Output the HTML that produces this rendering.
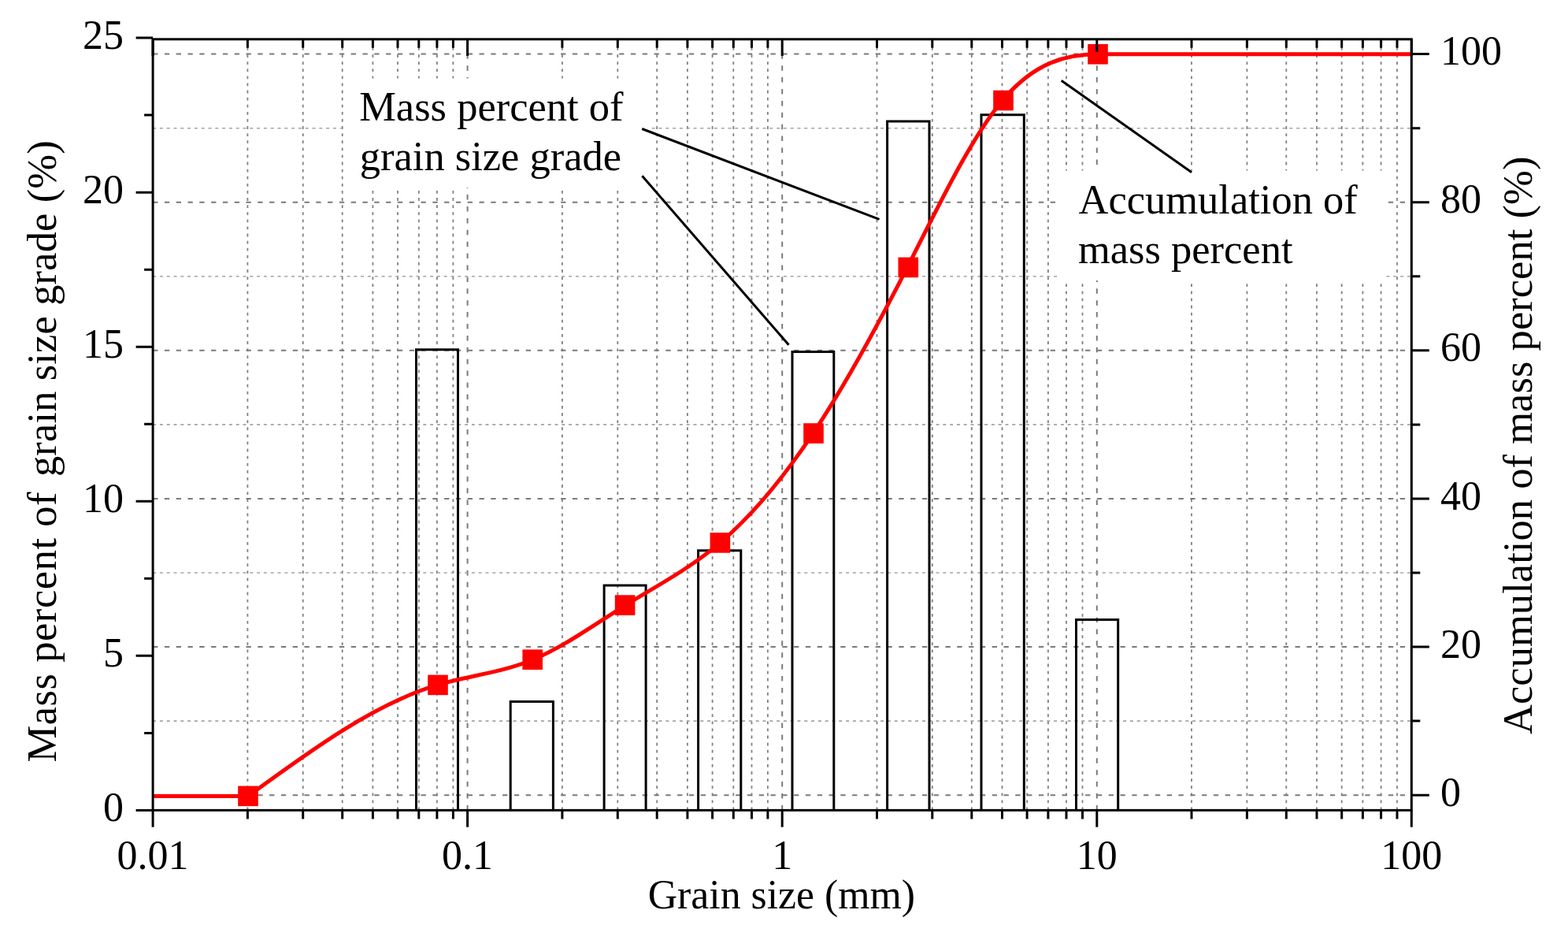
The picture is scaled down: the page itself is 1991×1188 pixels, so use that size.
<!DOCTYPE html><html><head><meta charset="utf-8"><title>Grain size distribution</title>
<style>html,body{margin:0;padding:0;background:#fff;}svg{display:block;}text{font-family:"Liberation Serif","Times New Roman",serif;fill:#000;}</style></head><body>
<svg width="1991" height="1188" viewBox="0 0 1991 1188">
<rect x="0" y="0" width="1991" height="1188" fill="#fff"/>
<defs><clipPath id="pa"><rect x="194.1" y="49.8" width="1598.2" height="978.6000000000001"/></clipPath></defs>
<g clip-path="url(#pa)" fill="none">
<line x1="314.4" y1="1028.4" x2="314.4" y2="49.8" stroke="#808080" stroke-width="1.8" stroke-dasharray="3.8 5.3"/>
<line x1="384.7" y1="1028.4" x2="384.7" y2="49.8" stroke="#808080" stroke-width="1.8" stroke-dasharray="3.8 5.3"/>
<line x1="434.7" y1="1028.4" x2="434.7" y2="49.8" stroke="#808080" stroke-width="1.8" stroke-dasharray="3.8 5.3"/>
<line x1="473.4" y1="1028.4" x2="473.4" y2="49.8" stroke="#808080" stroke-width="1.8" stroke-dasharray="3.8 5.3"/>
<line x1="505.0" y1="1028.4" x2="505.0" y2="49.8" stroke="#808080" stroke-width="1.8" stroke-dasharray="3.8 5.3"/>
<line x1="531.8" y1="1028.4" x2="531.8" y2="49.8" stroke="#808080" stroke-width="1.8" stroke-dasharray="3.8 5.3"/>
<line x1="554.9" y1="1028.4" x2="554.9" y2="49.8" stroke="#808080" stroke-width="1.8" stroke-dasharray="3.8 5.3"/>
<line x1="575.4" y1="1028.4" x2="575.4" y2="49.8" stroke="#808080" stroke-width="1.8" stroke-dasharray="3.8 5.3"/>
<line x1="593.6" y1="1028.4" x2="593.6" y2="49.8" stroke="#7a7a7a" stroke-width="2" stroke-dasharray="6.5 8.4"/>
<line x1="713.9" y1="1028.4" x2="713.9" y2="49.8" stroke="#808080" stroke-width="1.8" stroke-dasharray="3.8 5.3"/>
<line x1="784.3" y1="1028.4" x2="784.3" y2="49.8" stroke="#808080" stroke-width="1.8" stroke-dasharray="3.8 5.3"/>
<line x1="834.2" y1="1028.4" x2="834.2" y2="49.8" stroke="#808080" stroke-width="1.8" stroke-dasharray="3.8 5.3"/>
<line x1="872.9" y1="1028.4" x2="872.9" y2="49.8" stroke="#808080" stroke-width="1.8" stroke-dasharray="3.8 5.3"/>
<line x1="904.6" y1="1028.4" x2="904.6" y2="49.8" stroke="#808080" stroke-width="1.8" stroke-dasharray="3.8 5.3"/>
<line x1="931.3" y1="1028.4" x2="931.3" y2="49.8" stroke="#808080" stroke-width="1.8" stroke-dasharray="3.8 5.3"/>
<line x1="954.5" y1="1028.4" x2="954.5" y2="49.8" stroke="#808080" stroke-width="1.8" stroke-dasharray="3.8 5.3"/>
<line x1="974.9" y1="1028.4" x2="974.9" y2="49.8" stroke="#808080" stroke-width="1.8" stroke-dasharray="3.8 5.3"/>
<line x1="993.2" y1="1028.4" x2="993.2" y2="49.8" stroke="#7a7a7a" stroke-width="2" stroke-dasharray="6.5 8.4"/>
<line x1="1113.5" y1="1028.4" x2="1113.5" y2="49.8" stroke="#808080" stroke-width="1.8" stroke-dasharray="3.8 5.3"/>
<line x1="1183.8" y1="1028.4" x2="1183.8" y2="49.8" stroke="#808080" stroke-width="1.8" stroke-dasharray="3.8 5.3"/>
<line x1="1233.8" y1="1028.4" x2="1233.8" y2="49.8" stroke="#808080" stroke-width="1.8" stroke-dasharray="3.8 5.3"/>
<line x1="1272.5" y1="1028.4" x2="1272.5" y2="49.8" stroke="#808080" stroke-width="1.8" stroke-dasharray="3.8 5.3"/>
<line x1="1304.1" y1="1028.4" x2="1304.1" y2="49.8" stroke="#808080" stroke-width="1.8" stroke-dasharray="3.8 5.3"/>
<line x1="1330.9" y1="1028.4" x2="1330.9" y2="49.8" stroke="#808080" stroke-width="1.8" stroke-dasharray="3.8 5.3"/>
<line x1="1354.0" y1="1028.4" x2="1354.0" y2="49.8" stroke="#808080" stroke-width="1.8" stroke-dasharray="3.8 5.3"/>
<line x1="1374.5" y1="1028.4" x2="1374.5" y2="49.8" stroke="#808080" stroke-width="1.8" stroke-dasharray="3.8 5.3"/>
<line x1="1392.8" y1="1028.4" x2="1392.8" y2="49.8" stroke="#7a7a7a" stroke-width="2" stroke-dasharray="6.5 8.4"/>
<line x1="1513.0" y1="1028.4" x2="1513.0" y2="49.8" stroke="#808080" stroke-width="1.8" stroke-dasharray="3.8 5.3"/>
<line x1="1583.4" y1="1028.4" x2="1583.4" y2="49.8" stroke="#808080" stroke-width="1.8" stroke-dasharray="3.8 5.3"/>
<line x1="1633.3" y1="1028.4" x2="1633.3" y2="49.8" stroke="#808080" stroke-width="1.8" stroke-dasharray="3.8 5.3"/>
<line x1="1672.0" y1="1028.4" x2="1672.0" y2="49.8" stroke="#808080" stroke-width="1.8" stroke-dasharray="3.8 5.3"/>
<line x1="1703.7" y1="1028.4" x2="1703.7" y2="49.8" stroke="#808080" stroke-width="1.8" stroke-dasharray="3.8 5.3"/>
<line x1="1730.4" y1="1028.4" x2="1730.4" y2="49.8" stroke="#808080" stroke-width="1.8" stroke-dasharray="3.8 5.3"/>
<line x1="1753.6" y1="1028.4" x2="1753.6" y2="49.8" stroke="#808080" stroke-width="1.8" stroke-dasharray="3.8 5.3"/>
<line x1="1774.0" y1="1028.4" x2="1774.0" y2="49.8" stroke="#808080" stroke-width="1.8" stroke-dasharray="3.8 5.3"/>
<line x1="194.1" y1="1009.2" x2="1792.3" y2="1009.2" stroke="#7a7a7a" stroke-width="2" stroke-dasharray="6.3 8.5"/>
<line x1="194.1" y1="915.1" x2="1792.3" y2="915.1" stroke="#a4a4a4" stroke-width="1.6" stroke-dasharray="4 4.8"/>
<line x1="194.1" y1="821.1" x2="1792.3" y2="821.1" stroke="#7a7a7a" stroke-width="2" stroke-dasharray="6.3 8.5"/>
<line x1="194.1" y1="727.0" x2="1792.3" y2="727.0" stroke="#a4a4a4" stroke-width="1.6" stroke-dasharray="4 4.8"/>
<line x1="194.1" y1="633.0" x2="1792.3" y2="633.0" stroke="#7a7a7a" stroke-width="2" stroke-dasharray="6.3 8.5"/>
<line x1="194.1" y1="538.9" x2="1792.3" y2="538.9" stroke="#a4a4a4" stroke-width="1.6" stroke-dasharray="4 4.8"/>
<line x1="194.1" y1="444.8" x2="1792.3" y2="444.8" stroke="#7a7a7a" stroke-width="2" stroke-dasharray="6.3 8.5"/>
<line x1="194.1" y1="350.8" x2="1792.3" y2="350.8" stroke="#a4a4a4" stroke-width="1.6" stroke-dasharray="4 4.8"/>
<line x1="194.1" y1="256.7" x2="1792.3" y2="256.7" stroke="#7a7a7a" stroke-width="2" stroke-dasharray="6.3 8.5"/>
<line x1="194.1" y1="162.7" x2="1792.3" y2="162.7" stroke="#a4a4a4" stroke-width="1.6" stroke-dasharray="4 4.8"/>
<line x1="194.1" y1="68.6" x2="1792.3" y2="68.6" stroke="#7a7a7a" stroke-width="2" stroke-dasharray="6.3 8.5"/>
</g>
<rect x="436" y="99.5" width="390" height="138.5" fill="#fff"/>
<rect x="1345" y="216.5" width="412" height="139.5" fill="#fff"/>
<path d="M528.5 1028.4 V443.8 H581.5 V1028.4" fill="none" stroke="#000" stroke-width="3" stroke-linejoin="miter"/>
<path d="M648.2 1028.4 V890.6 H702.4 V1028.4" fill="none" stroke="#000" stroke-width="3" stroke-linejoin="miter"/>
<path d="M767.1 1028.4 V743.0 H820.1 V1028.4" fill="none" stroke="#000" stroke-width="3" stroke-linejoin="miter"/>
<path d="M886.6 1028.4 V698.7 H940.8 V1028.4" fill="none" stroke="#000" stroke-width="3" stroke-linejoin="miter"/>
<path d="M1006.0 1028.4 V446.5 H1058.8 V1028.4" fill="none" stroke="#000" stroke-width="3" stroke-linejoin="miter"/>
<path d="M1126.6 1028.4 V154.0 H1180.0 V1028.4" fill="none" stroke="#000" stroke-width="3" stroke-linejoin="miter"/>
<path d="M1246.0 1028.4 V145.8 H1300.3 V1028.4" fill="none" stroke="#000" stroke-width="3" stroke-linejoin="miter"/>
<path d="M1366.5 1028.4 V786.6 H1419.7 V1028.4" fill="none" stroke="#000" stroke-width="3" stroke-linejoin="miter"/>
<path d="M194.1 1010.4 H315.0 C395.33 951.74 475.67 893.09 556.00 869.16 C596.07 857.23 636.13 853.94 676.20 837.49 C715.33 821.44 754.47 792.84 793.60 768.53 C833.87 743.51 874.13 723.03 914.40 688.85 C953.93 655.29 993.47 608.52 1033.00 549.09 C1073.10 488.81 1113.20 415.51 1153.30 336.83 C1193.53 257.88 1233.77 173.53 1274.00 126.23 C1314.00 79.20 1354.00 68.80 1394.00 68.80 H1792.3" fill="none" stroke="#ff0000" stroke-width="5" stroke-linejoin="round"/>
<rect x="302.2" y="997.6" width="25.6" height="25.6" fill="#ff0000"/>
<rect x="543.2" y="856.6" width="25.6" height="25.6" fill="#ff0000"/>
<rect x="663.4" y="824.4" width="25.6" height="25.6" fill="#ff0000"/>
<rect x="780.8" y="755.3" width="25.6" height="25.6" fill="#ff0000"/>
<rect x="901.6" y="676.1" width="25.6" height="25.6" fill="#ff0000"/>
<rect x="1020.2" y="537.2" width="25.6" height="25.6" fill="#ff0000"/>
<rect x="1140.5" y="326.6" width="25.6" height="25.6" fill="#ff0000"/>
<rect x="1261.2" y="114.7" width="25.6" height="25.6" fill="#ff0000"/>
<rect x="1381.2" y="56.0" width="25.6" height="25.6" fill="#ff0000"/>
<rect x="194.1" y="49.8" width="1598.2" height="978.6000000000001" fill="none" stroke="#000" stroke-width="3"/>
<path d="M194.1 1028.4 V1049.7 M194.1 49.8 V70.9 M314.4 1028.4 V1039.4 M314.4 49.8 V60.8 M384.7 1028.4 V1039.4 M384.7 49.8 V60.8 M434.7 1028.4 V1039.4 M434.7 49.8 V60.8 M473.4 1028.4 V1039.4 M473.4 49.8 V60.8 M505.0 1028.4 V1039.4 M505.0 49.8 V60.8 M531.8 1028.4 V1039.4 M531.8 49.8 V60.8 M554.9 1028.4 V1039.4 M554.9 49.8 V60.8 M575.4 1028.4 V1039.4 M575.4 49.8 V60.8 M593.6 1028.4 V1049.7 M593.6 49.8 V70.9 M713.9 1028.4 V1039.4 M713.9 49.8 V60.8 M784.3 1028.4 V1039.4 M784.3 49.8 V60.8 M834.2 1028.4 V1039.4 M834.2 49.8 V60.8 M872.9 1028.4 V1039.4 M872.9 49.8 V60.8 M904.6 1028.4 V1039.4 M904.6 49.8 V60.8 M931.3 1028.4 V1039.4 M931.3 49.8 V60.8 M954.5 1028.4 V1039.4 M954.5 49.8 V60.8 M974.9 1028.4 V1039.4 M974.9 49.8 V60.8 M993.2 1028.4 V1049.7 M993.2 49.8 V70.9 M1113.5 1028.4 V1039.4 M1113.5 49.8 V60.8 M1183.8 1028.4 V1039.4 M1183.8 49.8 V60.8 M1233.8 1028.4 V1039.4 M1233.8 49.8 V60.8 M1272.5 1028.4 V1039.4 M1272.5 49.8 V60.8 M1304.1 1028.4 V1039.4 M1304.1 49.8 V60.8 M1330.9 1028.4 V1039.4 M1330.9 49.8 V60.8 M1354.0 1028.4 V1039.4 M1354.0 49.8 V60.8 M1374.5 1028.4 V1039.4 M1374.5 49.8 V60.8 M1392.8 1028.4 V1049.7 M1392.8 49.8 V65.9 M1513.0 1028.4 V1039.4 M1513.0 49.8 V60.8 M1583.4 1028.4 V1039.4 M1583.4 49.8 V60.8 M1633.3 1028.4 V1039.4 M1633.3 49.8 V60.8 M1672.0 1028.4 V1039.4 M1672.0 49.8 V60.8 M1703.7 1028.4 V1039.4 M1703.7 49.8 V60.8 M1730.4 1028.4 V1039.4 M1730.4 49.8 V60.8 M1753.6 1028.4 V1039.4 M1753.6 49.8 V60.8 M1774.0 1028.4 V1039.4 M1774.0 49.8 V60.8 M1792.3 1028.4 V1049.7 M1792.3 49.8 V70.9 M194.1 1028.4 H172.6 M194.1 930.4 H183.1 M194.1 832.3 H172.6 M194.1 734.3 H183.1 M194.1 636.3 H172.6 M194.1 538.2 H183.1 M194.1 440.2 H172.6 M194.1 342.2 H183.1 M194.1 244.2 H172.6 M194.1 146.1 H183.1 M194.1 48.1 H172.6 M1792.3 1009.2 H1814.8 M1792.3 915.1 H1803.3 M1792.3 821.1 H1814.8 M1792.3 727.0 H1803.3 M1792.3 633.0 H1814.8 M1792.3 538.9 H1803.3 M1792.3 444.8 H1814.8 M1792.3 350.8 H1803.3 M1792.3 256.7 H1814.8 M1792.3 162.7 H1803.3 M1792.3 68.6 H1814.8" fill="none" stroke="#000" stroke-width="3"/>
<g font-size="52.5">
<g font-size="52">
<text x="157" y="1042.4" text-anchor="end">0</text>
<text x="157" y="846.3" text-anchor="end">5</text>
<text x="157" y="650.3" text-anchor="end">10</text>
<text x="157" y="454.2" text-anchor="end">15</text>
<text x="157" y="258.2" text-anchor="end">20</text>
<text x="157" y="62.1" text-anchor="end">25</text>
<text x="1829" y="1022.8">0</text>
<text x="1829" y="834.7">20</text>
<text x="1829" y="646.6">40</text>
<text x="1829" y="458.4">60</text>
<text x="1829" y="270.3">80</text>
<text x="1829" y="82.2">100</text>
<text x="194.1" y="1102.8" text-anchor="middle">0.01</text>
<text x="593.6" y="1102.8" text-anchor="middle">0.1</text>
<text x="993.2" y="1102.8" text-anchor="middle">1</text>
<text x="1392.8" y="1102.8" text-anchor="middle">10</text>
<text x="1792.3" y="1102.8" text-anchor="middle">100</text>
</g>
<text x="992.4" y="1153.4" text-anchor="middle" font-size="51.8">Grain size (mm)</text>
<g transform="translate(70.9 967.6) rotate(-90)"><text x="0" y="0" textLength="343.2" lengthAdjust="spacing">Mass percent of</text><text x="362.6" y="0" textLength="426.7" lengthAdjust="spacing">grain size grade (%)</text></g>
<g transform="translate(1944.5 932) rotate(-90)"><text x="0" y="0" textLength="733.4" lengthAdjust="spacing">Accumulation of mass percent (%)</text></g>
<text x="456.2" y="152.6">Mass percent of</text>
<text x="456.8" y="215.5">grain size grade</text>
<text x="1369.5" y="271.3">Accumulation of</text>
<text x="1368.9" y="334">mass percent</text>
</g>
<path d="M815.2 163.5 L1116.5 278.4 M815.4 223.3 L1001.5 437.7 M1347.7 102.2 L1513.1 218.7" fill="none" stroke="#000" stroke-width="3"/>
</svg></body></html>
